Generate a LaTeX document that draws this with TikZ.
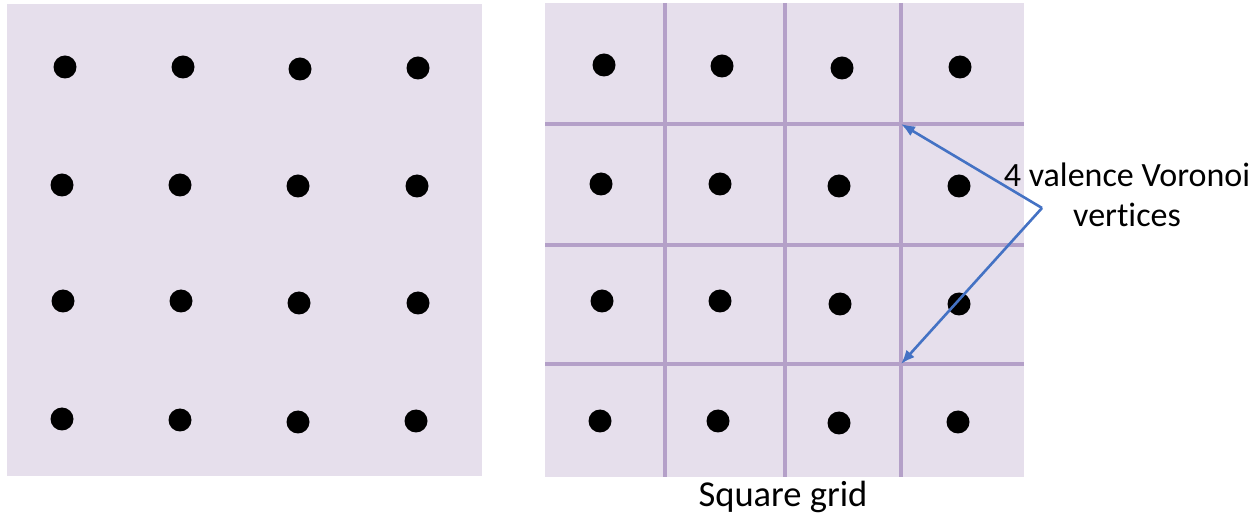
\documentclass[tikz,border=0pt]{standalone}
\usepackage{fontspec}
\setmainfont[Ligatures=NoCommon]{Carlito}
\usetikzlibrary{arrows.meta}
\definecolor{panel}{HTML}{E6DFEC}
\definecolor{gridline}{HTML}{B4A0C8}
\definecolor{arrowblue}{HTML}{4472C4}
\tikzset{
  dot/.style={circle,fill=black,inner sep=0pt,minimum size=23pt},
  cellline/.style={gridline,line width=4pt},
  pointer/.style={arrowblue,line width=2.6pt,-{Latex[length=14pt,width=11pt]}}
}
\begin{document}
\begin{tikzpicture}[x=1pt,y=-1pt]
\useasboundingbox (0,0) rectangle (1256,518);
% the two panels
\fill[panel] (7,4) rectangle (482,476);
\fill[panel] (545,3) rectangle (1024,477);
% square grid of the right panel
\foreach \gx in {665,785,901}
  \draw[cellline] (\gx,3) -- (\gx,477);
\foreach \gy in {124,245,364}
  \draw[cellline] (545,\gy) -- (1024,\gy);
% points, left panel
\foreach \px/\py [count=\i] in {65/67,183/67,300/69,418/68,62/185,180/185,298/186,417/186,
  63/301,181/301,299/303,418/303,62/419,180/420,298/422,416/421}
  \node[dot] (L\i) at (\px,\py) {};
% points, right panel
\foreach \px/\py [count=\i] in {604/65,722/66,842/68,960/67,601/184,720/184,839/186,959/186,
  602/301,720/301,840/304,959/304,600/421,718/421,839/423,958/422}
  \node[dot] (R\i) at (\px,\py) {};
% voronoi vertices and label
\coordinate (V1) at (901,124);
\coordinate (V2) at (901,364);
\coordinate (apex) at (1042,208);
\node[font=\fontsize{34}{40}\selectfont,align=center] (label) at (1127,195)
  {4 valence Voronoi\\vertices};
\draw[pointer] (apex) -- (V1);
\draw[pointer] (apex) -- (V2);
\node[font=\fontsize{36.5}{44}\selectfont] (caption) at (783,497) {Square grid};
\end{tikzpicture}
\end{document}
